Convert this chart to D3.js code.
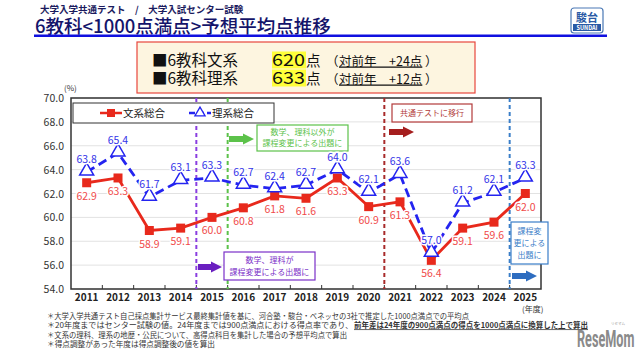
<!DOCTYPE html>
<html><head><meta charset="utf-8">
<script src="https://cdn.jsdelivr.net/npm/d3@7"></script>
<style>
body{margin:0;background:#fff;}
svg{display:block;font-family:"Noto Sans CJK JP","Noto Sans",sans-serif;}
</style></head><body>
<svg id="c" width="640" height="360"></svg>
<script>
const years = ["2011","2012","2013","2014","2015","2016","2017","2018","2019","2020","2021","2022","2023","2024","2025"];
const bunkei = [62.9,63.3,58.9,59.1,60.0,60.8,61.8,61.6,63.3,60.9,61.3,56.4,59.1,59.6,62.0];
const rikei  = [63.8,65.4,61.7,63.1,63.3,62.7,62.4,62.7,64.0,62.1,63.6,57.0,61.2,62.1,63.3];
const yTicks = [54,56,58,60,62,64,66,68,70];
const seriesNames = ["文系総合","理系総合"];
const footnotes = [
 "＊大学入学共通テスト自己採点集計サービス最終集計値を基に、河合塾・駿台・ベネッセの3社で推定した1000点満点での平均点",
 "＊20年度まではセンター試験の値。24年度までは900点満点における得点率であり、",
 "＊文系の理科、理系の地歴・公民について、高得点科目を集計した場合の予想平均点で算出",
 "＊得点調整があった年度は得点調整後の値を算出"
];
const footUnder = "前年差は24年度の900点満点の得点を1000点満点に換算した上で算出";

const svg = d3.select("#c");
const M = {l:71, r:541, t:98, b:289};
const x = d3.scaleBand().domain(years).range([M.l, M.r]);
const y = d3.scaleLinear().domain([54,70]).range([M.b, M.t]);
const cx = d => x(d) + x.bandwidth()/2;

// header
svg.append("text").attr("x",40).attr("y",12.5).attr("font-size",9.5).attr("font-weight","bold").attr("fill","#1b1b5e")
  .text("大学入学共通テスト　/　大学入試センター試験");
svg.append("text").attr("x",35).attr("y",33).attr("font-size",18.5).attr("font-weight","500").attr("fill","#14146a")
  .text("6教科<1000点満点>予想平均点推移");
svg.append("rect").attr("x",34).attr("y",34.5).attr("width",573).attr("height",2.5).attr("fill","#1010e0");
// logo
const lg = svg.append("g");
lg.append("rect").attr("x",571).attr("y",8).attr("width",32).attr("height",25).attr("rx",3).attr("fill","#fff").attr("stroke","#4a78b5").attr("stroke-width",1.2);
lg.append("text").attr("x",587).attr("y",22).attr("text-anchor","middle").attr("font-size",11).attr("font-weight","bold").attr("fill","#2a5aa5").text("駿台");
lg.append("rect").attr("x",573).attr("y",24).attr("width",28).attr("height",7).attr("fill","#2a5aa5");
lg.append("text").attr("x",587).attr("y",30).attr("text-anchor","middle").attr("font-size",5.5).attr("font-weight","bold").attr("fill","#fff").text("SUNDAI");

// info box
svg.append("rect").attr("x",137).attr("y",42).attr("width",338).attr("height",51).attr("fill","#fdf5e0").attr("stroke","#e8463c").attr("stroke-width",1.2);
const rows = [["■6教科文系","620","+24点"],["■6教科理系","633","+12点"]];
rows.forEach((r,i)=>{
  const by = 65.5 + i*18;
  svg.append("rect").attr("x",272).attr("y",by-14).attr("width",34).attr("height",17).attr("fill","#ffff3a");
  svg.append("text").attr("x",152).attr("y",by).attr("font-size",15.5).attr("fill","#111").text(r[0]);
  svg.append("text").attr("x",272).attr("y",by).attr("font-size",17).attr("fill","#111")
    .attr("textLength",33).attr("lengthAdjust","spacingAndGlyphs").text(r[1]);
  svg.append("text").attr("x",306).attr("y",by).attr("font-size",14.5).attr("fill","#111").text("点");
  svg.append("text").attr("x",326).attr("y",by).attr("font-size",12.5).attr("fill","#111").text("（");
  svg.append("text").attr("x",339).attr("y",by).attr("font-size",12.5).attr("fill","#111").attr("text-decoration","underline").text("対前年　"+r[2]);
  svg.append("text").attr("x",425).attr("y",by).attr("font-size",12.5).attr("fill","#111").text("）");
});

// grid
svg.append("g").selectAll("line").data(yTicks).join("line")
  .attr("x1",M.l).attr("x2",M.r).attr("y1",d=>y(d)).attr("y2",d=>y(d)).attr("stroke","#e2e2e2").attr("stroke-width",1);

// y axis labels
svg.append("g").selectAll("text").data(yTicks).join("text")
  .attr("x",64).attr("y",d=>y(d)+4).attr("text-anchor","end").attr("font-size",10.5).attr("fill","#333")
  .text(d=>d.toFixed(1));
svg.append("text").attr("x",64).attr("y",91).attr("font-size",8).attr("fill","#333").text("(%)");

// x axis labels
svg.append("g").selectAll("text").data(years).join("text")
  .attr("x",d=>cx(d)).attr("y",301).attr("text-anchor","middle").attr("font-size",10).attr("font-weight","bold").attr("fill","#222")
  .text(d=>d);
svg.append("g").selectAll("line").data(years.slice(1)).join("line")
  .attr("x1",d=>x(d)).attr("x2",d=>x(d)).attr("y1",M.b).attr("y2",M.b-4).attr("stroke","#333");
svg.append("text").attr("x",522).attr("y",312).attr("font-size",8).attr("fill","#333").text("(年度)");

// border
svg.append("rect").attr("x",M.l).attr("y",M.t).attr("width",M.r-M.l).attr("height",M.b-M.t).attr("fill","none").attr("stroke","#333").attr("stroke-width",1.5);

// vertical dashed lines
const vlines = [["2015","#8a3ee0"],["2016","#5cc24a"],["2021","#a82a2a"],["2025","#3a7ec8"]];
vlines.forEach(v=>{
  svg.append("line").attr("x1",x(v[0])).attr("x2",x(v[0])).attr("y1",M.t).attr("y2",M.b)
    .attr("stroke",v[1]).attr("stroke-width",2).attr("stroke-dasharray","4,3");
});

// annotations
function arrow(x0,yc,w,col){
  const h=6, hh=11, hw=11;
  svg.append("path").attr("d",`M${x0},${yc-h/2}H${x0+w-hw}V${yc-hh/2}L${x0+w},${yc}L${x0+w-hw},${yc+hh/2}V${yc+h/2}H${x0}Z`).attr("fill",col);
}
function box(x0,y0,w,h,col,lines,fs,lh){
  svg.append("rect").attr("x",x0).attr("y",y0).attr("width",w).attr("height",h).attr("fill","#fff").attr("stroke",col).attr("stroke-width",1.2);
  lines.forEach((t,i)=>svg.append("text").attr("x",x0+w/2).attr("y",y0+h/2+(i-(lines.length-1)/2)*lh+fs*0.35)
    .attr("text-anchor","middle").attr("font-size",fs).attr("fill",col).text(t));
}
box(257,125,91,26,"#5cc24a",["数学、理科以外が","課程変更による出題に"],8,11);
arrow(229,139,25,"#5cc24a");
box(224,252,91,28,"#7b30c8",["数学、理科が","課程変更による出題に"],8,12);
arrow(198,267,24,"#6a1fc0");
box(392,104,80,18,"#b23a3a",["共通テストに移行"],8,10);
arrow(389,132,25,"#a51e1e");
box(511,222,37,42,"#3a7ec8",["課程変","更による","出題に"],8,12);
arrow(512,276,25,"#2e6dc0");

// legend
svg.append("rect").attr("x",73).attr("y",103).attr("width",201).attr("height",20).attr("fill","#fff").attr("stroke","#333").attr("stroke-width",1);
svg.append("line").attr("x1",100).attr("x2",122).attr("y1",113).attr("y2",113).attr("stroke","#e8291c").attr("stroke-width",2.5);
svg.append("rect").attr("x",107).attr("y",109).attr("width",8).attr("height",8).attr("fill","#e8291c");
svg.append("text").attr("x",123).attr("y",117).attr("font-size",10.5).attr("fill","#222").text(seriesNames[0]);
svg.append("line").attr("x1",189).attr("x2",211).attr("y1",113).attr("y2",113).attr("stroke","#2424f0").attr("stroke-width",2.5).attr("stroke-dasharray","6,3");
svg.append("path").attr("d",d3.symbol(d3.symbolTriangle,45)()).attr("transform","translate(200,113)").attr("fill","#fff").attr("stroke","#2424f0").attr("stroke-width",1.3);
svg.append("text").attr("x",212).attr("y",117).attr("font-size",10.5).attr("fill","#222").text(seriesNames[1]);

// lines
const line = d3.line().x((d,i)=>cx(years[i])).y(d=>y(d));
svg.append("path").datum(rikei).attr("d",line).attr("fill","none").attr("stroke","#2424f0").attr("stroke-width",2.8).attr("stroke-dasharray","9,5");
svg.append("path").datum(bunkei).attr("d",line).attr("fill","none").attr("stroke","#e8291c").attr("stroke-width",2.8);

svg.append("g").selectAll("rect").data(bunkei).join("rect")
  .attr("x",(d,i)=>cx(years[i])-4.5).attr("y",d=>y(d)-4.5).attr("width",9).attr("height",9).attr("fill","#e8291c");
svg.append("g").selectAll("path").data(rikei).join("path")
  .attr("d",d3.symbol(d3.symbolTriangle,85)())
  .attr("transform",(d,i)=>`translate(${cx(years[i])},${y(d)-1})`)
  .attr("fill","#fff").attr("stroke","#2424f0").attr("stroke-width",1.5);

// labels
svg.append("g").selectAll("text").data(bunkei).join("text")
  .attr("x",(d,i)=>cx(years[i])).attr("y",d=>y(d)+17).attr("text-anchor","middle").attr("font-size",10.5)
  .attr("fill","#f04a4a").attr("stroke","#fff").attr("stroke-width",3).attr("paint-order","stroke")
  .text(d=>d.toFixed(1));
svg.append("g").selectAll("text").data(rikei).join("text")
  .attr("x",(d,i)=>cx(years[i])).attr("y",d=>y(d)-9).attr("text-anchor","middle").attr("font-size",10.5)
  .attr("fill","#3333e8").attr("stroke","#fff").attr("stroke-width",3).attr("paint-order","stroke")
  .text(d=>d.toFixed(1));

// footnotes
const footLens = [422, 306, 300, 168];
footnotes.forEach((t,i)=>{
  svg.append("text").attr("x",47).attr("y",319+i*9.3).attr("font-size",7.5).attr("fill","#333")
    .attr("textLength",footLens[i]).attr("lengthAdjust","spacingAndGlyphs").text(t);
});
svg.append("text").attr("x",354).attr("y",319+9.3).attr("font-size",7.5).attr("fill","#333")
  .attr("font-weight","bold").attr("text-decoration","underline")
  .attr("textLength",234).attr("lengthAdjust","spacingAndGlyphs").text(footUnder);
// watermark
svg.append("g").attr("transform","translate(577,347) scale(0.55,1)")
  .append("text").attr("x",0).attr("y",0).attr("font-family","Roboto,sans-serif").attr("font-size",23).attr("font-weight","bold").attr("fill","#8a8a8a")
  .text("ReseMom");
svg.append("text").attr("x",618).attr("y",325).attr("text-anchor","middle").attr("font-size",3.5).attr("fill","#999").text("リセマム");
</script></body></html>
